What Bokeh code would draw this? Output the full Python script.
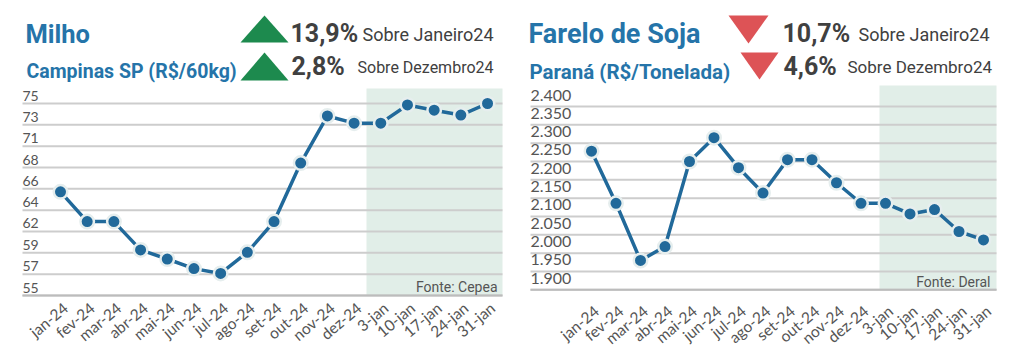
import math
from bokeh.plotting import figure
from bokeh.layouts import row
from bokeh.models import Range1d
from bokeh.core.properties import value
from bokeh.embed import file_html
from bokeh.resources import INLINE

# ---------------- data ----------------
categories = ["jan-24", "fev-24", "mar-24", "abr-24", "mai-24", "jun-24", "jul-24",
              "ago-24", "set-24", "out-24", "nov-24", "dez-24",
              "3-jan", "10-jan", "17-jan", "24-jan", "31-jan"]
milho = [65.8, 62.7, 62.7, 59.75, 58.8, 57.8, 57.3, 59.5, 62.7, 68.8, 73.7, 72.95,
         72.95, 74.85, 74.3, 73.8, 75.0]
farelo = [2278, 2136, 1980, 2018, 2250, 2315, 2233, 2164, 2255, 2255, 2192, 2136,
          2136, 2107, 2119, 2059, 2036]

milho_ticks = [55, 57.222, 59.444, 61.667, 63.889, 66.111, 68.333, 70.556, 72.778, 75]
milho_tick_labels = ["55", "57", "59", "62", "64", "66", "68", "71", "73", "75"]
farelo_ticks = [1900, 1950, 2000, 2050, 2100, 2150, 2200, 2250, 2300, 2350, 2400]
farelo_tick_labels = ["1.900", "1.950", "2.000", "2.050", "2.100", "2.150", "2.200",
                      "2.250", "2.300", "2.350", "2.400"]

milho_title = "Milho"
milho_sub = "Campinas SP (R$/60kg)"
milho_pct = ["13,9%", "2,8%"]
farelo_title = "Farelo de Soja"
farelo_sub = "Paraná (R$/Tonelada)"
farelo_pct = ["10,7%", "4,6%"]
cmp_labels = ["Sobre Janeiro24", "Sobre Dezembro24"]
sources = ["Fonte: Cepea", "Fonte: Deral"]

# ---------------- style ----------------
BLUE = "#21699a"
TITLE_BLUE = "#2574a9"
DARK = "#404040"
AXIS_TXT = "#555555"
GRID = "#cdcdcd"
SHADE = "#e1eee8"
GREEN = "#1d8a4e"
RED = "#dd5356"
H = 354


def make_chart(W, x0, dx, py_top, v_top, py_bot, v_bot):
    sx = lambda px: (px - x0) / dx
    k = (v_top - v_bot) / (py_bot - py_top)
    sy = lambda py: v_top - (py - py_top) * k
    p = figure(width=W, height=H, x_range=Range1d(sx(0), sx(W)),
               y_range=Range1d(sy(H), sy(0)), output_backend="svg",
               toolbar_location=None, x_axis_location=None, y_axis_location=None,
               min_border=0, outline_line_color=None,
               background_fill_color="white", border_fill_color="white")
    p.grid.visible = False
    return p, sx, sy


def txt(p, x, y, t, size, color, bold=False, font="Roboto", align="left",
        baseline="middle", angle=0.0):
    p.text(x=x, y=y, text=t, text_font=value(font),
           text_font_size=value(size), text_color=color,
           text_font_style="bold" if bold else "normal",
           text_align=align, text_baseline=baseline, angle=angle)


def build(W, x0, dx, py_top, v_top, py_bot, v_bot, values, ticks, tick_labels,
          grid_l, grid_r, shade_l, shade_top, ylab_size, ylab_gap,
          xlab_size, xlab_py, source, src_x, src_py,
          title, sub, pcts, up, tri, pct_x, cmp_x, title_x,
          title_size, sub_size, cmp_sizes):
    p, sx, sy = make_chart(W, x0, dx, py_top, v_top, py_bot, v_bot)
    xs = list(range(len(values)))
    k = (v_top - v_bot) / (py_bot - py_top)
    # shaded weekly zone
    p.quad(left=sx(shade_l), right=sx(grid_r), bottom=sy(py_bot), top=sy(shade_top),
           fill_color=SHADE, line_color=None)
    # gridlines
    n = len(ticks)
    p.segment(x0=[sx(grid_l)] * n, x1=[sx(grid_r)] * n, y0=ticks, y1=ticks,
              line_color=GRID, line_width=2)
    p.segment(x0=[sx(grid_l)], x1=[sx(grid_r)], y0=[ticks[0]], y1=[ticks[0]],
              line_color="#bcbcbc", line_width=2)
    # y tick labels (sitting above their gridline)
    txt(p, [sx(grid_l)] * n, [t + ylab_gap * k for t in ticks], tick_labels,
        ylab_size, AXIS_TXT, font="Lato")
    # line + markers
    p.line(xs, values, line_color=BLUE, line_width=3.5)
    p.scatter(xs, values, size=13.5, fill_color=BLUE, line_color="#e6eeee",
              line_width=2.5)
    # x tick labels
    txt(p, [x + 5 / dx for x in xs], [sy(xlab_py)] * len(xs), categories,
        xlab_size, AXIS_TXT, font="Lato", align="right", baseline="middle",
        angle=0.70)
    # source
    txt(p, [sx(src_x)], [sy(src_py)], [source], "14px", AXIS_TXT, font="Roboto",
        align="right")
    # header
    txt(p, [sx(title_x)], [sy(33.5)], [title], title_size, TITLE_BLUE, bold=True)
    txt(p, [sx(title_x + 1)], [sy(71)], [sub], sub_size, TITLE_BLUE, bold=True)
    color = GREEN if up else RED
    pxs, pys = [], []
    for (l, r, t, b) in tri:
        pxs.append([sx(l), sx(r), sx((l + r) / 2)])
        if up:
            pys.append([sy(b), sy(b), sy(t)])
        else:
            pys.append([sy(t), sy(t), sy(b)])
    p.patches(xs=pxs, ys=pys, fill_color=color, line_color=None)
    txt(p, [sx(pct_x[0]), sx(pct_x[1])], [sy(32.5), sy(66)], pcts, "25px", DARK,
        bold=True)
    txt(p, [sx(cmp_x[0])], [sy(34)], [cmp_labels[0]], cmp_sizes[0], DARK)
    txt(p, [sx(cmp_x[1])], [sy(66.5)], [cmp_labels[1]], cmp_sizes[1], DARK)
    return p


left = build(W=506, x0=60, dx=26.69, py_top=103, v_top=75, py_bot=295, v_bot=55,
             values=milho, ticks=milho_ticks, tick_labels=milho_tick_labels,
             grid_l=22, grid_r=502, shade_l=366, shade_top=88,
             ylab_size="14px", ylab_gap=8, xlab_size="15.5px", xlab_py=305,
             source=sources[0], src_x=497, src_py=286,
             title=milho_title, sub=milho_sub, pcts=milho_pct, up=True,
             tri=[(240, 288, 15, 42), (240, 288, 52, 80)],
             pct_x=(290, 291), cmp_x=(362, 357), title_x=25,
             title_size="25.5px", sub_size="19.5px", cmp_sizes=("18px", "16px"))

right = build(W=506, x0=85, dx=24.5, py_top=106, v_top=2400, py_bot=289.3, v_bot=1900,
              values=farelo, ticks=farelo_ticks, tick_labels=farelo_tick_labels,
              grid_l=24, grid_r=490, shade_l=373, shade_top=85,
              ylab_size="16px", ylab_gap=11.5, xlab_size="15.5px", xlab_py=308,
              source=sources[1], src_x=484, src_py=281,
              title=farelo_title, sub=farelo_sub, pcts=farelo_pct, up=False,
              tri=[(222, 262, 15, 43), (234, 272, 52, 79)],
              pct_x=(276, 277), cmp_x=(352, 341), title_x=22,
              title_size="27px", sub_size="20.5px", cmp_sizes=("18px", "17px"))

layout = row(left, right)
open("out.html", "w").write(file_html(layout, INLINE))
